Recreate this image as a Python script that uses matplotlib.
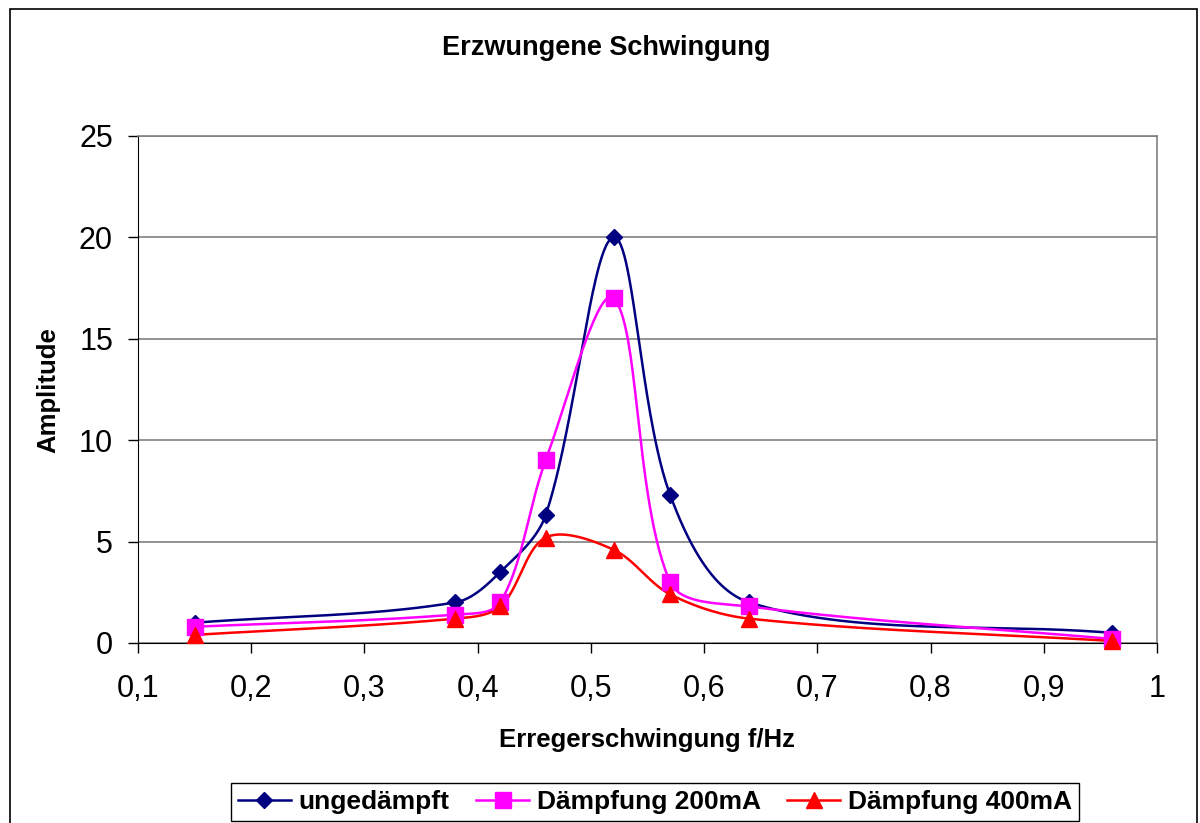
#!/usr/bin/env python3
"""Erzwungene Schwingung: Amplitude über Erregerfrequenz für drei Dämpfungen."""

import numpy as np
import matplotlib.pyplot as plt
from matplotlib.patches import Rectangle
from matplotlib.ticker import FuncFormatter

plt.rcParams['font.family'] = ['Liberation Sans', 'DejaVu Sans']

freq = [0.15, 0.38, 0.42, 0.46, 0.52, 0.57, 0.64, 0.96]
amp_ungedaempft = [1.0, 2.0, 3.5, 6.3, 20.0, 7.3, 2.0, 0.5]
amp_200mA = [0.8, 1.4, 2.0, 9.0, 17.0, 3.0, 1.8, 0.2]
amp_400mA = [0.4, 1.2, 1.8, 5.2, 4.6, 2.4, 1.2, 0.1]

labels = ['ungedämpft', 'Dämpfung 200mA', 'Dämpfung 400mA']
colors = ['#000080', '#FF00FF', '#FF0000']
markers = ['D', 's', '^']
msizes = [8.5, 11, 11]


def smooth(x, y, sx, sy, n=60):
    """Bezier curve through the points, tangents scaled by chord length (screen coords)."""
    p = np.column_stack([np.asarray(x) * sx, np.asarray(y) * sy])
    d = np.linalg.norm(np.diff(p, axis=0), axis=1)
    k = len(p)
    tang = np.zeros_like(p)
    for i in range(k):
        if i == 0:
            tang[i] = (p[1] - p[0]) / d[0]
        elif i == k - 1:
            tang[i] = (p[-1] - p[-2]) / d[-1]
        else:
            tang[i] = (p[i + 1] - p[i - 1]) / (d[i - 1] + d[i])
    t = np.linspace(0, 1, n)[:, None]
    out = []
    for i in range(k - 1):
        p1, p2 = p[i], p[i + 1]
        c1 = p1 + tang[i] * d[i] / 3
        c2 = p2 - tang[i + 1] * d[i] / 3
        seg = ((1 - t) ** 3) * p1 + 3 * ((1 - t) ** 2) * t * c1 \
            + 3 * (1 - t) * t ** 2 * c2 + t ** 3 * p2
        out.append(seg if i == 0 else seg[1:])
    out = np.vstack(out)
    return out[:, 0] / sx, out[:, 1] / sy


fig = plt.figure(figsize=(12, 8.23), dpi=100)
ax = fig.add_axes([138 / 1200, 1 - 643 / 823, 1019 / 1200, 507 / 823])

# chart border
fig.patches.append(Rectangle((10 / 1200, -0.01), 1187 / 1200, 1 - 9 / 823 + 0.01,
                             transform=fig.transFigure, fill=False,
                             edgecolor='black', linewidth=1.2))

sx, sy = 1019 / 0.9, 507 / 25
for yv, lab, c, m, ms in zip([amp_ungedaempft, amp_200mA, amp_400mA],
                             labels, colors, markers, msizes):
    xs, ys = smooth(freq, yv, sx, sy)
    ax.plot(xs, ys, color=c, linewidth=1.8, zorder=3)
    ax.plot(freq, yv, linestyle='none', marker=m, markersize=ms, color=c,
            zorder=4, clip_on=False)
    ax.plot([], [], color=c, linewidth=1.8, marker=m, markersize=ms, label=lab)

ax.set_xlim(0.1, 1.0)
ax.set_ylim(0, 25)
ax.set_xticks(np.arange(0.1, 1.01, 0.1))
ax.set_yticks(range(0, 26, 5))
ax.xaxis.set_major_formatter(FuncFormatter(lambda v, _: f'{v:g}'.replace('.', ',')))
ax.grid(True, axis='y', color='#808080', linewidth=1.2)
ax.set_axisbelow(True)
ax.tick_params(direction='out', length=7, width=1, labelsize=22)
ax.tick_params(axis='x', pad=15)
ax.tick_params(axis='y', pad=11)
for side in ('top', 'right'):
    ax.spines[side].set_color('#808080')
    ax.spines[side].set_linewidth(1.2)

fig.text(647 / 1200, 1 - 740 / 823, 'Erregerschwingung f/Hz', ha='center',
         va='center', fontsize=18.5, fontweight='bold')
fig.text(48 / 1200, 1 - 390 / 823, 'Amplitude', ha='center', va='center',
         rotation=90, fontsize=18.5, fontweight='bold')
fig.text(606 / 1200, 1 - 48 / 823, 'Erzwungene Schwingung', ha='center', va='center',
         fontsize=19.5, fontweight='bold')

fig.legend(loc='center', bbox_to_anchor=(655 / 1200, 1 - 802 / 823), ncol=3,
           frameon=True, fancybox=False, edgecolor='black', framealpha=1,
           prop={'weight': 'bold', 'size': 19}, handlelength=2.0,
           handletextpad=0.3, columnspacing=1.0, borderpad=0.25)

fig.savefig('out.png', dpi=100)
